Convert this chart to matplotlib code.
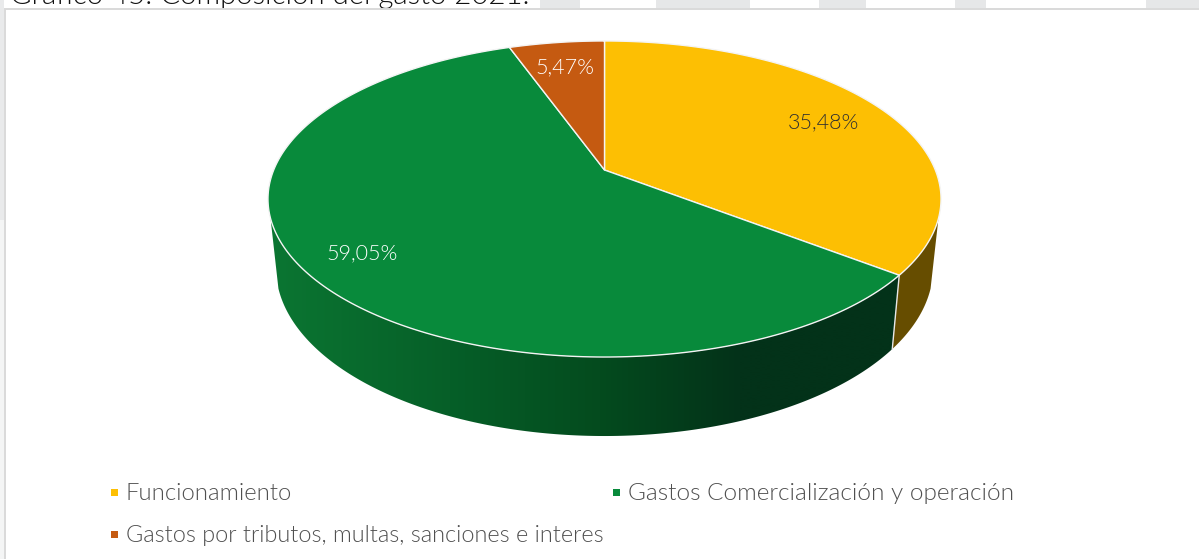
import numpy as np
import matplotlib
matplotlib.use("Agg")
import matplotlib.pyplot as plt
from matplotlib.patches import Rectangle, Polygon

# Data
categories = ["Funcionamiento", "Gastos Comercialización y operación",
              "Gastos por tributos, multas, sanciones e interes"]
values = [35.48, 59.05, 5.47]
labels = ["35,48%", "59,05%", "5,47%"]
top_colors = ["#FDBF03", "#088A3B", "#C55A11"]
title_text = "Gráfico 45. Composición del gasto 2021."

FONT = "Lato"
WEIGHT = 300
W, H = 1199, 559
fig = plt.figure(figsize=(W / 100, H / 100), dpi=100, facecolor="white")
ax = fig.add_axes([0, 0, 1, 1])

# Backdrop fragments
for x0, x1 in [(540, 580), (656, 750), (819, 866), (955, 986), (1146, 1199)]:
    ax.add_patch(Rectangle((x0, 0), x1 - x0, 8, fc="#E6E7E8", ec="none", zorder=0))
ax.add_patch(Rectangle((0, 0), 4, 220, fc="#E9EAEB", ec="none", zorder=0))
ax.add_patch(Rectangle((0, 220), 4, 339, fc="#F4F5F5", ec="none", zorder=0))
ax.text(10, 4, title_text, fontsize=21.2, family=FONT, fontweight=WEIGHT, color="#111111",
        ha="left", va="baseline", zorder=1)
ax.add_patch(Rectangle((4.5, 8.5), W, H, fc="white", ec="#D9D9D9", lw=1.4, zorder=2))

# Perspective model of the pie discs
CX = 604.5
K = 0.1835


def disc(theta, y0, rx, ry):
    d = 1 + K * np.cos(theta)
    return CX + rx * np.sin(theta) / d, y0 - ry * np.cos(theta) / d


TOP = (170.0, 330.8, 152.7)
BOT = (237.0, 323.0, 162.5)

fractions = np.array(values) / np.sum(values)
edges = np.concatenate([[0], np.cumsum(fractions)]) * 2 * np.pi

wall_limit = np.arccos(-0.3)


def wall_polygon(a0, a1):
    ts = np.linspace(a0, a1, 300)
    x0, y0 = disc(ts, *TOP)
    x1, y1 = disc(ts[::-1], *BOT)
    return np.column_stack([np.r_[x0, x1], np.r_[y0, y1]])


# Yellow wedge wall (flat colour)
ax.add_patch(Polygon(wall_polygon(wall_limit, edges[1]), closed=True,
                     fc="#664D00", ec="none", zorder=3))

# Green wedge wall (horizontal gradient, clipped to the wall outline)
stops_x = np.array([270, 450, 600, 740, 900])
stops_rgb = np.array([[11, 118, 50], [6, 95, 40], [4, 75, 30], [3, 50, 25], [3, 50, 25]]) / 255
grad_x = np.linspace(260, 910, 651)
grad = np.stack([np.interp(grad_x, stops_x, stops_rgb[:, c]) for c in range(3)], axis=1)[None, :, :]
img = ax.imshow(grad, extent=(260, 910, 445, 200), aspect="auto", zorder=3,
                interpolation="bilinear")
clip = Polygon(wall_polygon(edges[1], 2 * np.pi - wall_limit), closed=True,
               transform=ax.transData, fc="none", ec="none")
ax.add_patch(clip)
img.set_clip_path(clip)

ax.set_xlim(0, W)
ax.set_ylim(H, 0)
ax.axis("off")

# Wall seam between the two visible wedges
seam = edges[1]
ax.plot(*zip(disc(seam, *TOP), disc(seam, *BOT)), color="#E8E8E8", lw=1.0, zorder=4)

# Top faces
apex = (CX, TOP[0])
for i, c in enumerate(top_colors):
    ts = np.linspace(edges[i], edges[i + 1], 240)
    xs, ys = disc(ts, *TOP)
    pts = np.column_stack([np.r_[apex[0], xs], np.r_[apex[1], ys]])
    ax.add_patch(Polygon(pts, closed=True, fc=c, ec="#F4F4F4", lw=1.0, zorder=5,
                         joinstyle="round"))

# Data labels
for text, col, (lx, ly) in zip(labels, ["#303030", "white", "white"],
                               [(824, 122), (362, 253), (565, 67)]):
    ax.text(lx, ly, text, color=col, fontsize=15.5, family=FONT, fontweight=WEIGHT,
            ha="center", va="center", zorder=6)

# Legend
legend_pos = [(111, 493), (613, 493), (111, 535)]
legend_size = [17.2, 17.6, 16.9]
for name, c, (lx, ly), fs in zip(categories, top_colors, legend_pos, legend_size):
    ax.add_patch(Rectangle((lx, ly - 4), 6.5, 6.5, fc=c, ec="none", zorder=6))
    ax.text(lx + 15, ly, name, color="#505050", fontsize=fs, family=FONT, fontweight=WEIGHT,
            ha="left", va="center", zorder=6)

fig.savefig("out.png", dpi=100)
